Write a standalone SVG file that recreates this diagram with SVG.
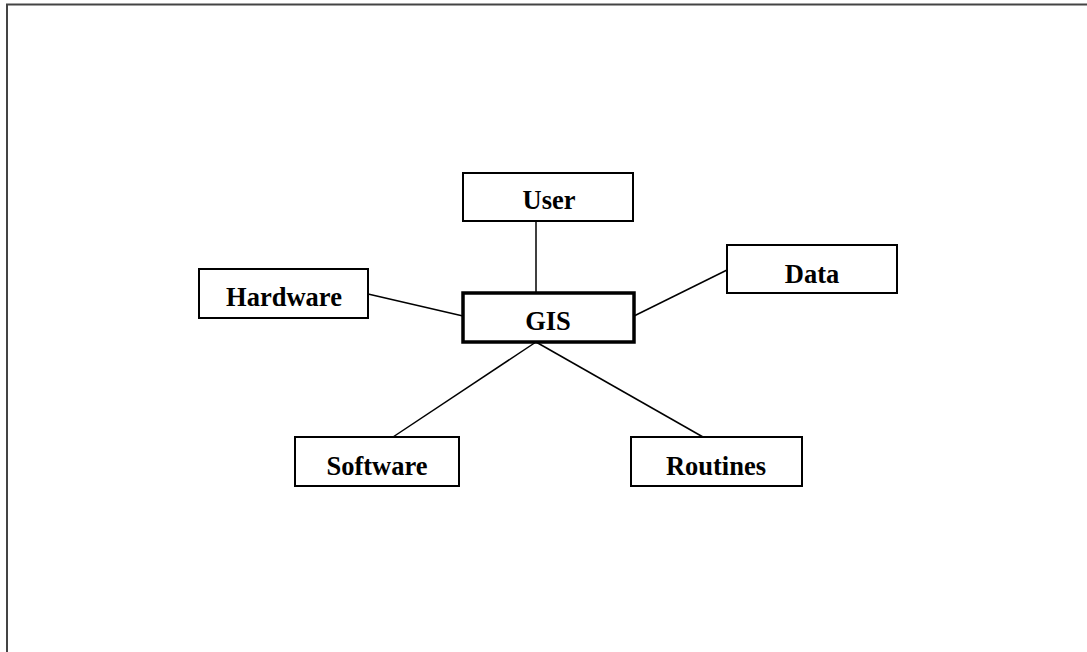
<svg xmlns="http://www.w3.org/2000/svg" width="1087" height="652" viewBox="0 0 1087 652">
<style>
.box{fill:#fff;stroke:#000;stroke-width:2}
.main{fill:#fff;stroke:#000;stroke-width:3.5}
.lbl{font-family:"Liberation Serif","Times New Roman",serif;font-weight:bold;font-size:26.5px;text-anchor:middle;fill:#000}
.conn line{stroke:#000;stroke-width:1.5}
</style>
<rect width="1087" height="652" fill="#fff"/>
<path d="M7,652 V4.5 H1087" fill="none" stroke="#444" stroke-width="2"/>
<g id="connectors" class="conn">
<line x1="536" y1="221" x2="536" y2="293"/>
<line x1="368" y1="294" x2="463" y2="316"/>
<line x1="727" y1="270" x2="634" y2="316"/>
<line x1="536" y1="342" x2="393" y2="437"/>
<line x1="536" y1="342" x2="703" y2="437"/>
</g>
<g id="user"><rect class="box" x="463" y="173" width="170" height="48"/><text class="lbl" x="549" y="209">User</text></g>
<g id="gis"><rect class="main" x="463" y="293" width="171" height="49"/><text class="lbl" x="548" y="330">GIS</text></g>
<g id="hardware"><rect class="box" x="199" y="269" width="169" height="49"/><text class="lbl" x="284" y="306">Hardware</text></g>
<g id="data"><rect class="box" x="727" y="245" width="170" height="48"/><text class="lbl" x="812" y="283">Data</text></g>
<g id="software"><rect class="box" x="295" y="437" width="164" height="49"/><text class="lbl" x="377" y="475">Software</text></g>
<g id="routines"><rect class="box" x="631" y="437" width="171" height="49"/><text class="lbl" x="716" y="475">Routines</text></g>
</svg>
